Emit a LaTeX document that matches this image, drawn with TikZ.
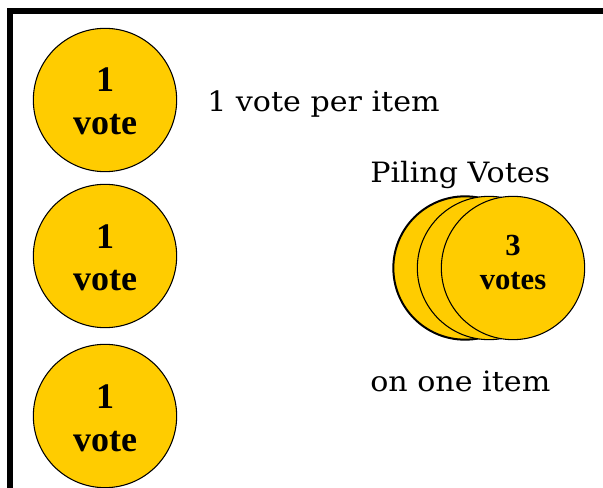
\documentclass[tikz,border=0pt]{standalone}
\usepackage{fontspec}
\setmainfont{Liberation Serif}
\newfontfamily\labelfont{DejaVu Serif}
\definecolor{coin}{HTML}{FFCC00}
\newcommand{\capwide}[1]{\scalebox{1.075}[1]{#1}}
\begin{document}
\begin{tikzpicture}[x=0.75pt,y=-0.75pt,
  coinshape/.style={circle,draw=black,line width=0.8pt,fill=coin,minimum size=107.5pt,inner sep=0pt},
  bigtxt/.style={font=\fontsize{27}{30}\selectfont\bfseries,anchor=base,inner sep=0pt},
  midtxt/.style={font=\fontsize{23}{26}\selectfont\bfseries,anchor=base,inner sep=0pt},
  captxt/.style={font=\labelfont\fontsize{21}{24}\selectfont,anchor=base west,inner sep=0pt}]
\useasboundingbox (0,0) rectangle (603,488);
\fill[white] (0,0) rectangle (603,488);
\draw[line width=3.8pt] (10,490) -- (10,11) -- (605,11);
% left coins
\node[coinshape] (c1) at (105,100) {};
\node[coinshape] (c2) at (105,256) {};
\node[coinshape] (c3) at (105,416) {};
\foreach \n/\y in {a/100,b/256,c/416}{
  \node[bigtxt] (one\n) at (105,\y-8) {1};
  \node[bigtxt] (vote\n) at (105,\y+35) {vote};
}
% pile
\node[coinshape,line width=1.5pt] (p1) at (465,268) {};
\node[coinshape] (p2) at (489,268) {};
\node[coinshape] (p3) at (513,268) {};
\node[midtxt] (three) at (513,256) {3};
\node[midtxt] (votes) at (513,290) {votes};
% captions
\node[captxt] (per) at (207,112) {\capwide{1 vote per item}};
\node[captxt] (piling) at (370,183) {\capwide{Piling Votes}};
\node[captxt] (onone) at (370,391) {\capwide{on one item}};
\end{tikzpicture}
\end{document}
